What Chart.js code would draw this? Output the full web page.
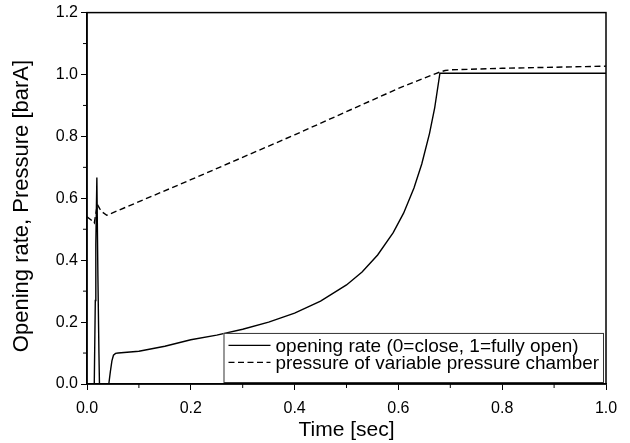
<!DOCTYPE html>
<html>
<head>
<meta charset="utf-8">
<script src="https://cdn.jsdelivr.net/npm/chart.js@4"></script>
<style>
  body { margin: 0; background: #fff; }
  #wrap { width: 630px; height: 443px; }
</style>
</head>
<body>
<div id="wrap"><canvas id="myChart" width="630" height="443"></canvas></div>
<script>
// opening rate (solid)
const openTime = [0, 0.014, 0.016, 0.017, 0.019, 0.021, 0.023, 0.024, 0.042, 0.045, 0.048, 0.051, 0.055, 0.06, 0.1, 0.15, 0.2, 0.25, 0.3, 0.35, 0.4, 0.45, 0.5, 0.53, 0.56, 0.59, 0.61, 0.63, 0.645, 0.66, 0.67, 0.68, 1.0];
const openValue = [0, 0, 0.27, 0.45, 0.667, 0.35, 0.1, 0, 0, 0.04, 0.075, 0.093, 0.099, 0.1, 0.106, 0.122, 0.143, 0.158, 0.177, 0.2, 0.229, 0.268, 0.32, 0.362, 0.417, 0.489, 0.552, 0.633, 0.711, 0.81, 0.893, 1.004, 1.004];

// pressure of variable pressure chamber (dashed)
const pressTime = [0, 0.008, 0.014, 0.018, 0.02, 0.025, 0.03, 0.038, 0.2, 0.4, 0.6, 0.672, 0.68, 0.69, 0.7, 0.8, 1.0];
const pressValue = [0.54, 0.53, 0.52, 0.56, 0.58, 0.565, 0.555, 0.545, 0.66, 0.805, 0.955, 1.003, 1.008, 1.013, 1.015, 1.02, 1.027];

const seriesLabels = ['opening rate (0=close, 1=fully open)', 'pressure of variable pressure chamber'];
const xTitle = 'Time [sec]';
const yTitle = 'Opening rate, Pressure [barA]';

const xTicks = [0, 0.2, 0.4, 0.6, 0.8, 1.0];
const yTicks = [0, 0.2, 0.4, 0.6, 0.8, 1.0, 1.2];

const FONT = 'Arial, "Liberation Sans", sans-serif';

function toPoints(xs, ys) {
    return xs.map((x, i) => ({ x: x, y: ys[i] }));
}

// frame, minor ticks, axis titles and legend box
const extras = {
    id: 'extras',
    afterDraw(chart) {
        const ctx = chart.ctx;
        const a = chart.chartArea;
        const xs = chart.scales.x;
        const ys = chart.scales.y;
        ctx.save();
        ctx.strokeStyle = '#000';
        ctx.lineWidth = 1.5;
        ctx.strokeRect(a.left, a.top, a.right - a.left, a.bottom - a.top);

        // minor ticks
        ctx.lineWidth = 1;
        ctx.beginPath();
        for (let i = 0; i < xTicks.length - 1; i++) {
            const px = xs.getPixelForValue((xTicks[i] + xTicks[i + 1]) / 2);
            ctx.moveTo(px, a.bottom);
            ctx.lineTo(px, a.bottom + 4);
        }
        for (let i = 0; i < yTicks.length - 1; i++) {
            const py = ys.getPixelForValue((yTicks[i] + yTicks[i + 1]) / 2);
            ctx.moveTo(a.left, py);
            ctx.lineTo(a.left - 4, py);
        }
        ctx.stroke();

        // axis titles
        ctx.fillStyle = '#000';
        ctx.textAlign = 'center';
        ctx.textBaseline = 'middle';
        ctx.font = '21px ' + FONT;
        ctx.fillText(xTitle, (a.left + a.right) / 2, 430);
        ctx.save();
        ctx.translate(22, 206);
        ctx.rotate(-Math.PI / 2);
        ctx.font = '22px ' + FONT;
        ctx.fillText(yTitle, 0, 0);
        ctx.restore();

        // legend
        const bx = xs.getPixelForValue(0.263);
        const by = ys.getPixelForValue(0.165);
        const bw = a.right - 3 - bx;
        const bh = a.bottom - 2 - by;
        ctx.fillStyle = '#fff';
        ctx.fillRect(bx, by, bw, bh);
        ctx.lineWidth = 1;
        ctx.strokeStyle = '#333';
        ctx.strokeRect(bx + 0.5, by + 0.5, bw, bh);

        ctx.font = '19px ' + FONT;
        ctx.fillStyle = '#000';
        ctx.textAlign = 'left';
        chart.data.datasets.forEach((ds, i) => {
            const ly = by + 12.5 + i * 17;
            ctx.beginPath();
            ctx.strokeStyle = '#000';
            ctx.lineWidth = 1.3;
            ctx.setLineDash(ds.borderDash || []);
            ctx.moveTo(bx + 5, ly);
            ctx.lineTo(bx + 47, ly);
            ctx.stroke();
            ctx.setLineDash([]);
            ctx.fillText(ds.label, bx + 52, ly + 1, bw - 56);
        });
        ctx.restore();
    }
};

const ctx = document.getElementById('myChart').getContext('2d');
const chart = new Chart(ctx, {
    type: 'scatter',
    data: {
        datasets: [
            {
                label: seriesLabels[0],
                data: toPoints(openTime, openValue),
                showLine: true,
                borderColor: '#000',
                borderWidth: 1.4,
                pointRadius: 0,
                tension: 0
            },
            {
                label: seriesLabels[1],
                data: toPoints(pressTime, pressValue),
                showLine: true,
                borderColor: '#000',
                borderWidth: 1.4,
                borderDash: [6, 3.5],
                pointRadius: 0,
                tension: 0
            }
        ]
    },
    options: {
        responsive: false,
        animation: false,
        layout: { padding: { top: 12, right: 24, left: 0, bottom: 0 } },
        plugins: {
            legend: { display: false },
            tooltip: { enabled: false }
        },
        scales: {
            x: {
                type: 'linear',
                min: 0,
                max: 1.0,
                afterBuildTicks(scale) { scale.ticks = xTicks.map(v => ({ value: v })); },
                afterFit(scale) { scale.height = 59; },
                border: { color: '#000', width: 1.5 },
                grid: { drawOnChartArea: false, color: '#000', tickLength: 6, lineWidth: 1 },
                ticks: {
                    color: '#000',
                    font: { size: 16, family: FONT },
                    padding: 9,
                    maxRotation: 0,
                    callback: v => v.toFixed(1)
                }
            },
            y: {
                type: 'linear',
                min: 0,
                max: 1.2,
                afterBuildTicks(scale) { scale.ticks = yTicks.map(v => ({ value: v })); },
                afterFit(scale) { scale.width = 87; },
                border: { color: '#000', width: 1.5 },
                grid: { drawOnChartArea: false, color: '#000', tickLength: 6, lineWidth: 1 },
                ticks: {
                    color: '#000',
                    font: { size: 16, family: FONT },
                    padding: 3,
                    callback: v => v.toFixed(1)
                }
            }
        }
    },
    plugins: [extras]
});
</script>
</body>
</html>
